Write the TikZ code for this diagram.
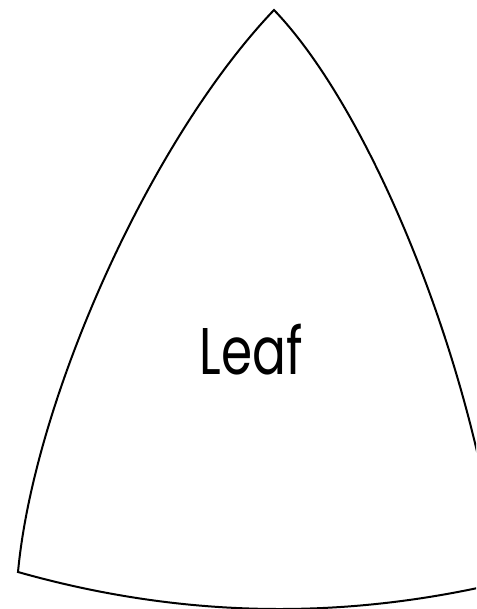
\documentclass[tikz,border=0pt]{standalone}
\usepackage{fontspec}
\setmainfont[FakeStretch=0.76]{Poppins}
\usepackage{tikz}

\begin{document}
\begin{tikzpicture}[x=1pt, y=-1pt]
    % Fix the page to the picture size and cut the shape at its edges
    \useasboundingbox (0, 0) rectangle (476, 609);
    \clip (0, 0) rectangle (476, 609);

    % Corners of the leaf (right corner lies just outside the page)
    \coordinate (tip) at (274, 10);
    \coordinate (left) at (18, 572);
    \coordinate (right) at (500, 583);

    % Outline: three bulging sides
    \draw[black, line width=2pt, line join=miter]
        (tip) .. controls (150, 140) and (34, 400) .. (left)
        .. controls (179, 617.6) and (339, 620.8) .. (right)
        .. controls (477, 372) and (373, 113) .. (tip) -- cycle;

    % Label in the middle
    \node[anchor=base, inner sep=0pt, font=\fontsize{66}{66}\selectfont] (leaf) at (251, 374) {Leaf};
\end{tikzpicture}
\end{document}
